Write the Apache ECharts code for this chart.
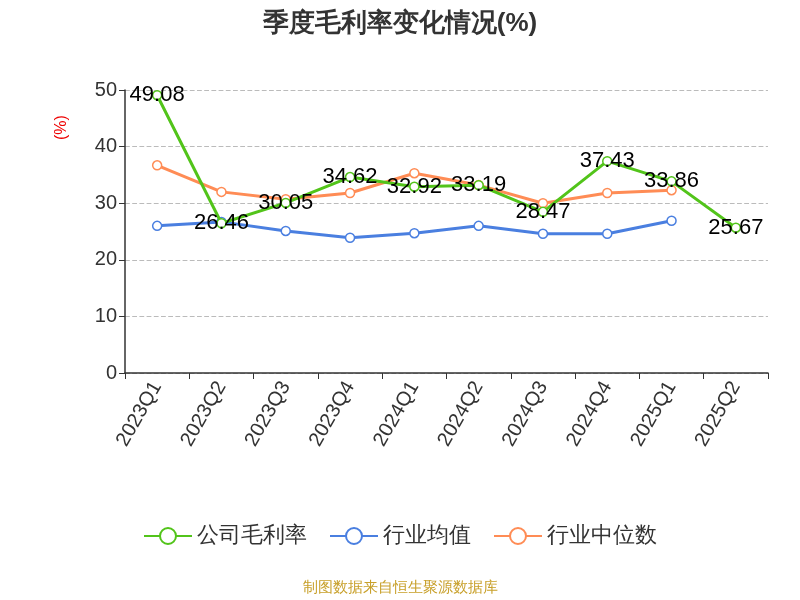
<!DOCTYPE html>
<html>
<head>
<meta charset="utf-8">
<script src="https://cdn.jsdelivr.net/npm/echarts@6/dist/echarts.min.js"></script>
<style>html,body{margin:0;padding:0;background:#fff}#chart{width:800px;height:600px}</style>
</head>
<body>
<div id="chart"></div>
<script>
// 季度
const quarters = ['2023Q1', '2023Q2', '2023Q3', '2023Q4', '2024Q1', '2024Q2', '2024Q3', '2024Q4', '2025Q1', '2025Q2']
// 公司毛利率
const companyMargin = [49.08, 26.46, 30.05, 34.62, 32.92, 33.19, 28.47, 37.43, 33.86, 25.67]
// 行业均值
const industryAvg = [26.0, 26.7, 25.1, 23.9, 24.7, 26.0, 24.6, 24.6, 26.9, null]
// 行业中位数
const industryMedian = [36.7, 32.0, 30.7, 31.8, 35.3, 33.2, 30.0, 31.8, 32.3, null]

const chart = echarts.init(document.getElementById('chart'))
const lineSeries = (name, data, color, showLabel) => ({
  name: name,
  type: 'line',
  data: data,
  symbol: 'circle',
  symbolSize: 9,
  itemStyle: { color: '#fff', borderColor: color, borderWidth: 1.5 },
  lineStyle: { color: color, width: 3 },
  label: { show: showLabel, position: 'inside', color: '#000', fontSize: 22 },
  z: showLabel ? 3 : 2
})
chart.setOption({
  animation: false,
  title: {
    text: '季度毛利率变化情况(%)',
    left: 'center',
    top: 6,
    textStyle: { fontSize: 26, fontWeight: 'bold', color: '#333' }
  },
  legend: {
    bottom: 48,
    itemWidth: 48,
    itemHeight: 20,
    itemGap: 22,
    textStyle: { fontSize: 22, color: '#333' },
    data: ['公司毛利率', '行业均值', '行业中位数']
  },
  graphic: [{
    type: 'text',
    left: 'center',
    top: 580,
    style: { text: '制图数据来自恒生聚源数据库', fill: '#c8a02a', fontSize: 15 }
  }, {
    type: 'text',
    x: 54,
    y: 140,
    rotation: Math.PI / 2,
    style: { text: '(%)', fill: '#e00', fontSize: 16 }
  }],
  grid: { left: 125, right: 32, top: 90, bottom: 227 },
  xAxis: {
    type: 'category',
    data: quarters,
    boundaryGap: true,
    axisLine: { lineStyle: { color: '#333', width: 1.5 } },
    axisTick: { show: true, length: 6, lineStyle: { color: '#333' } },
    axisLabel: { rotate: 60, fontSize: 20, color: '#333', margin: 10 }
  },
  yAxis: {
    type: 'value',
    min: 0,
    max: 50,
    interval: 10,
    axisLine: { show: true, lineStyle: { color: '#333', width: 1.5 } },
    axisTick: { show: true, length: 6, lineStyle: { color: '#333' } },
    axisLabel: { fontSize: 20, color: '#333' },
    splitLine: { lineStyle: { type: 'dashed', color: '#bbb', width: 1.2 } }
  },
  series: [
    lineSeries('公司毛利率', companyMargin, '#52c41a', true),
    lineSeries('行业均值', industryAvg, '#4a7fe0', false),
    lineSeries('行业中位数', industryMedian, '#ff8c55', false)
  ]
})
</script>
</body>
</html>
